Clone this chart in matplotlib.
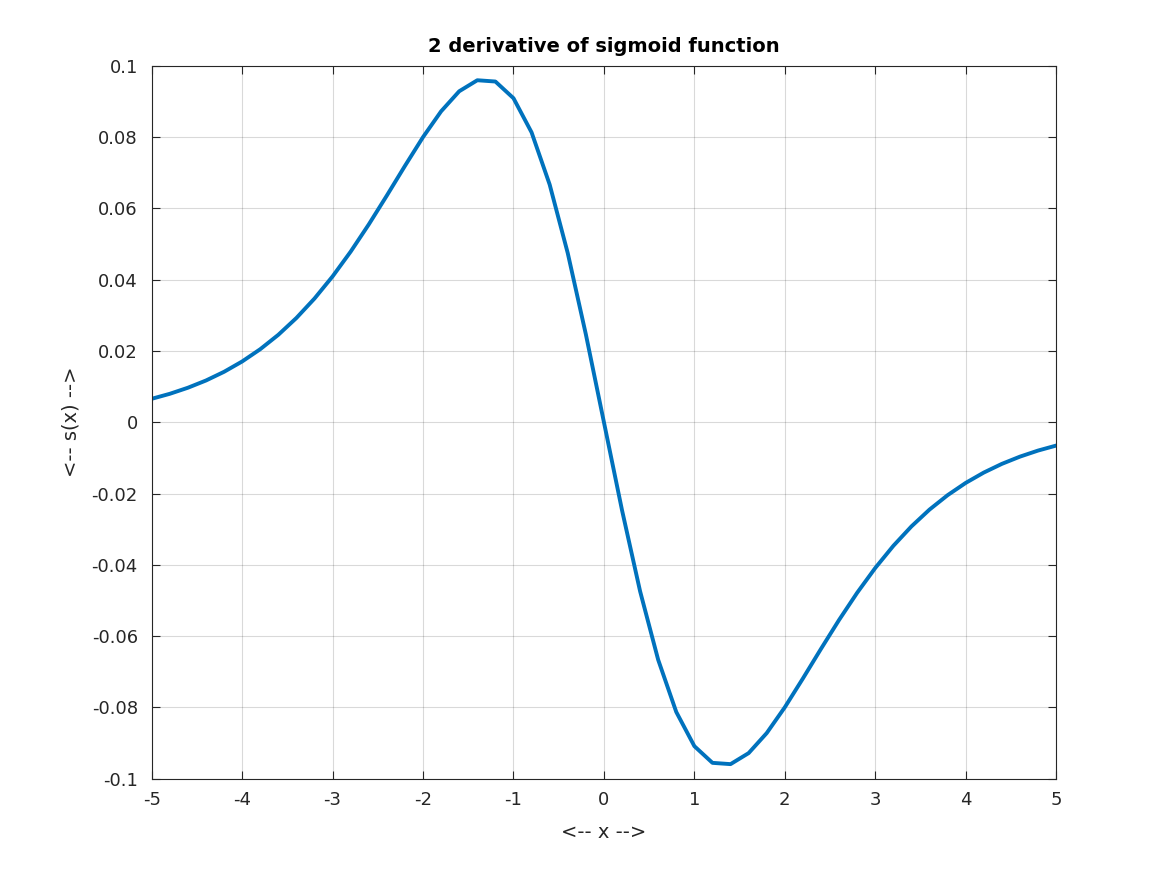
import matplotlib.pyplot as plt
import numpy as np

# x samples (step 0.2) and values
x = np.round(np.arange(-5, 5.01, 0.2), 1)
pos = [0.0, -0.02467, -0.04742, -0.06665, -0.08128, -0.09086, -0.09554,
       -0.09590, -0.09281, -0.08719, -0.07996, -0.07188, -0.06357,
       -0.05546, -0.04784, -0.04089, -0.03468, -0.02923, -0.02451,
       -0.02047, -0.01703, -0.01413, -0.01169, -0.00966, -0.00796,
       -0.00656]
y = [-v for v in pos[:0:-1]] + pos

xticks = list(range(-5, 6))
yticks = [-0.1, -0.08, -0.06, -0.04, -0.02, 0, 0.02, 0.04, 0.06, 0.08, 0.1]
ytick_labels = ["-0.1", "-0.08", "-0.06", "-0.04", "-0.02", "0",
                "0.02", "0.04", "0.06", "0.08", "0.1"]

fig = plt.figure(figsize=(11.67, 8.75), dpi=100)
ax = fig.add_axes([0.13, 0.11, 0.775, 0.815])
ax.plot(x, y, color="#0072BD", linewidth=2.8)

ax.set_xlim(-5, 5)
ax.set_ylim(-0.1, 0.1)
ax.set_xticks(xticks)
ax.set_xticklabels([str(t) for t in xticks])
ax.set_yticks(yticks)
ax.set_yticklabels(ytick_labels)
ax.grid(True, color="#000000", alpha=0.15, linewidth=0.8)
ax.tick_params(direction="in", top=True, right=True, labelsize=13,
               colors="#262626", length=6)
ax.tick_params(axis="x", pad=9)
ax.tick_params(axis="y", pad=10)
for s in ax.spines.values():
    s.set_color("#262626")
    s.set_linewidth(0.8)

ax.set_title("2 derivative of sigmoid function", fontsize=14,
             fontweight="bold", color="black", pad=10)
ax.set_xlabel("<-- x -->", fontsize=14, color="#262626", labelpad=10)
ax.set_ylabel("<-- s(x) -->", fontsize=14, color="#262626", labelpad=8)

fig.savefig("out.png", dpi=100)
